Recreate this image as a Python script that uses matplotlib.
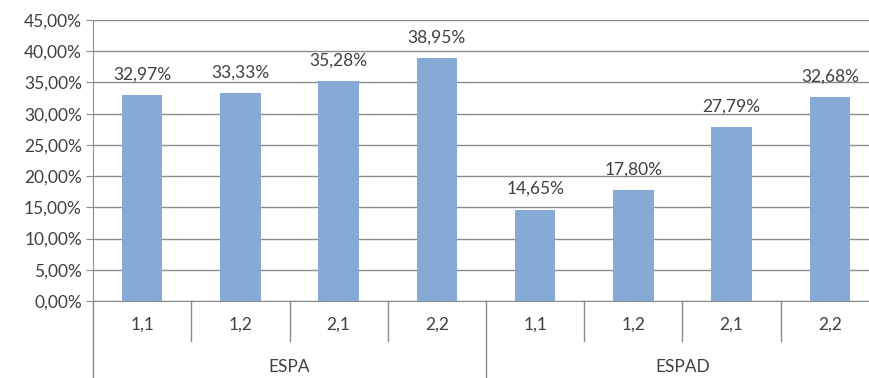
#!/usr/bin/env python3
# -*- coding: utf-8 -*-

import numpy as np
import matplotlib
matplotlib.use('Agg')
import matplotlib.pyplot as plt

# データ
groups = ['ESPA', 'ESPAD']
sub_labels = ['1,1', '1,2', '2,1', '2,2']
espa_values = [32.97, 33.33, 35.28, 38.95]
espad_values = [14.65, 17.80, 27.79, 32.68]
y_ticks = [0, 5, 10, 15, 20, 25, 30, 35, 40, 45]

plt.rcParams['font.family'] = ['Lato', 'DejaVu Sans']

BAR_COLOR = '#86AAD6'
GRID_COLOR = '#8C8C8C'
TEXT_COLOR = '#404040'
FS = 12.5

values = espa_values + espad_values
n = len(values)
x = np.arange(n)

fig = plt.figure(figsize=(8.69, 3.78), dpi=100)
ax = fig.add_axes([93 / 869, 77 / 378, 786 / 869, 281 / 378])

ax.bar(x, values, width=0.41, color=BAR_COLOR, zorder=3)

# データラベル
for xi, v in zip(x, values):
    ax.text(xi, v + 2.0, f'{v:.2f}%'.replace('.', ','), ha='center', va='bottom',
            fontsize=FS, color=TEXT_COLOR)

ax.set_xlim(-0.5, n - 0.5)
ax.set_ylim(0, 45)
ax.set_yticks(y_ticks)
ax.set_yticklabels([f'{t:.2f}%'.replace('.', ',') for t in y_ticks],
                   fontsize=FS, color=TEXT_COLOR)
ax.tick_params(axis='y', length=5, color=GRID_COLOR, pad=3)
ax.set_xticks([])
ax.grid(axis='y', color=GRID_COLOR, linewidth=1, zorder=0)

for side in ['top', 'right']:
    ax.spines[side].set_visible(False)
ax.spines['left'].set_color(GRID_COLOR)
ax.spines['bottom'].set_color(GRID_COLOR)

# 多段カテゴリ軸
tr = ax.get_xaxis_transform()
for i in range(n + 1):
    bx = i - 0.5
    depth = -0.28 if i % 4 == 0 else -0.142
    ax.plot([bx, bx], [0, depth], transform=tr, color=GRID_COLOR,
            linewidth=1, clip_on=False)

for i in range(n):
    ax.text(i, -0.085, sub_labels[i % 4], transform=tr, ha='center', va='center',
            fontsize=FS, color=TEXT_COLOR)

for g, name in enumerate(groups):
    ax.text(g * 4 + 1.5, -0.235, name, transform=tr, ha='center', va='center',
            fontsize=FS, color=TEXT_COLOR)

fig.savefig('out.png', dpi=100)
plt.close(fig)
